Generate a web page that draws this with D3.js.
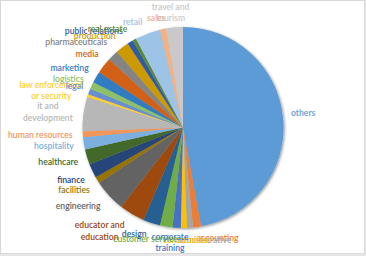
<!DOCTYPE html>
<html><head><meta charset="utf-8">
<script src="https://cdn.jsdelivr.net/npm/d3@7"></script>
<style>
html,body{margin:0;padding:0;background:#e6e6e6;}
svg{display:block;}
text{font-family:Lato,"Open Sans",sans-serif;}
</style></head>
<body>
<svg id="c" width="366" height="256"></svg>
<script>
// ---- data (percent share) ----
const categories = ["others","accounting","administrative","construction","corporate training","customer service","design","educator and education","engineering","facilities","finance","healthcare","hospitality","human resources","it and development","law enforcement or security","legal","logistics","marketing","media","pharmaceuticals","production","public relations","real estate","retail","sales","travel and tourism"];
const values = [47.1,1.25,1.0,0.97,1.3,2.03,2.75,4.1,5.2,1.0,2.28,2.44,2.0,0.92,5.5,0.45,0.97,1.1,1.86,2.6,1.7,2.14,0.94,0.58,4.08,0.97,2.7];
const colors = ["#5B9BD5","#ED7D31","#A5A5A5","#FFC000","#4472C4","#70AD47","#255E91","#9E480E","#636363","#997300","#264478","#43682B","#7CAFDD","#F1975A","#B7B7B7","#FFCD33","#698ED0","#8CC168","#327DC2","#D26012","#848484","#CC9A00","#335AA1","#5A8A39","#9DC3E6","#F4B183","#C9C9C9"];

// ---- layout ----
const W = 366, H = 256;
const cx = 183, cy = 127.5, r = 100.5;
const gx = 8, gy = 3, lh = 11.5;
const wrap = {"travel and tourism":["travel and","tourism"],"it and development":["it and","development"],
  "law enforcement or security":["law enforcement","or security"],"educator and education":["educator and","education"],
  "corporate training":["corporate","training"]};
const nudge = {"others":[0,-4],"accounting":[16.5,2.7],"administrative":[12,4],"construction":[3,4],
  "corporate training":[-5,0.5],"customer service":[-14,4.5],"design":[-11,3.5],"educator and education":[-15.5,4.7],
  "engineering":[-8.7,5.2],"facilities":[-3,5.4],"finance":[-1.7,5.2],"healthcare":[-2,3],"hospitality":[-2.3,2],
  "human resources":[-2.2,1],"it and development":[-2.9,0.3],"law enforcement or security":[1.4,0],"legal":[1,-1.8],
  "logistics":[-2.2,-2.4],"marketing":[-3,-4],"media":[-1.4,-5.7],"pharmaceuticals":[-9.6,-6.4],"production":[-10,-3.7],
  "public relations":[-17,-2.7],"real estate":[-13.4,-2.4],"retail":[-8.8,-2.4],"sales":[-3.2,-2.5],"travel and tourism":[-1.7,0]};

const svg = d3.select("#c");
svg.append("rect").attr("x",0.5).attr("y",0.5).attr("width",364).attr("height",253)
  .attr("fill","#fff").attr("stroke","#d9d9d9");

const defs = svg.append("defs");
const f = defs.append("filter").attr("id","sh").attr("x","-10%").attr("y","-10%").attr("width","120%").attr("height","120%");
f.append("feGaussianBlur").attr("in","SourceAlpha").attr("stdDeviation",1.6).attr("result","b");
f.append("feOffset").attr("in","b").attr("dx",0.6).attr("dy",0.8).attr("result","o");
f.append("feComponentTransfer").attr("in","o").attr("result","o2").append("feFuncA").attr("type","linear").attr("slope",0.45);
const m = f.append("feMerge"); m.append("feMergeNode").attr("in","o2"); m.append("feMergeNode").attr("in","SourceGraphic");

const data = categories.map((c,i)=>({cat:c, value:values[i], color:colors[i]}));
const pie = d3.pie().sort(null).value(d=>d.value);
const arc = d3.arc().innerRadius(0).outerRadius(r);
const arcs = pie(data);

svg.append("g").attr("transform",`translate(${cx},${cy})`).attr("filter","url(#sh)")
  .selectAll("path").data(arcs).join("path").attr("d",arc).attr("fill",d=>d.data.color);

// font size fitted to Calibri-like label widths
const probe = svg.append("text").attr("font-size",10).attr("font-weight",600).text("pharmaceuticals");
const fs = 10*62/probe.node().getComputedTextLength();
probe.remove();

const lg = svg.append("g").attr("font-size",fs).attr("font-weight",600);
arcs.forEach(d=>{
  const t = (d.startAngle+d.endAngle)/2, s = Math.sin(t), c = Math.cos(t);
  const lines = wrap[d.data.cat] || [d.data.cat];
  const txt = lg.append("text").attr("fill",d.data.color).attr("text-anchor","middle");
  const spans = lines.map(l=>txt.append("tspan").text(l));
  const w = d3.max(spans, sp=>sp.node().getComputedTextLength());
  const h = lines.length*lh;
  const nd = nudge[d.data.cat] || [0,0];
  const x = cx + (r+gx)*s + s*w/2 + nd[0];
  const y = cy - (r+gy)*c - c*h/2 + nd[1];
  spans.forEach((sp,i)=>sp.attr("x",x).attr("y", y - h/2 + lh*(i+0.5) + 0.3*fs));
});
</script>
</body></html>
